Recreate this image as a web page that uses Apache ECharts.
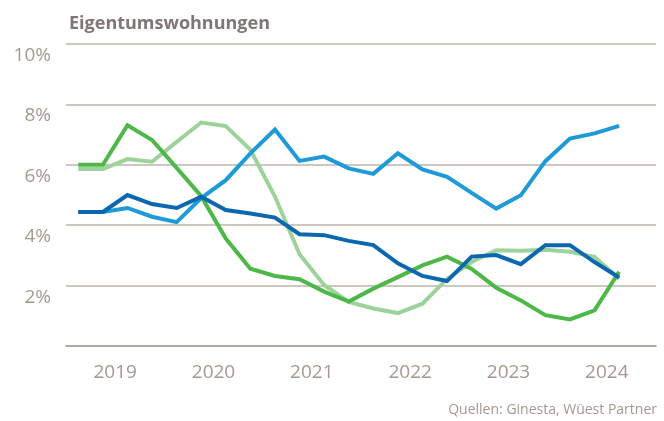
<!DOCTYPE html>
<html>
<head>
<meta charset="utf-8">
<script src="https://cdn.jsdelivr.net/npm/echarts@6/dist/echarts.min.js"></script>
<style>
  html, body { margin: 0; padding: 0; background: #fff; }
  #chart { width: 664px; height: 421px; }
</style>
</head>
<body>
<div id="chart"></div>
<script>
// years shown on the x axis, one point per quarter
const years = ['2019', '2020', '2021', '2022', '2023', '2024'];
const yTicks = [0, 2, 4, 6, 8, 10];

// values in %, 2019 Q1 .. 2024 Q3
const darkGreen = [6.0, 6.0, 7.31, 6.82, 5.9, 4.96, 3.56, 2.56, 2.32, 2.21, 1.8, 1.47, 1.9, 2.28, 2.67, 2.96, 2.55, 1.93, 1.51, 1.02, 0.88, 1.18, 2.46];
const lightGreen = [5.86, 5.86, 6.19, 6.1, 6.76, 7.4, 7.28, 6.5, 4.95, 3.04, 2.02, 1.46, 1.24, 1.09, 1.4, 2.22, 2.78, 3.17, 3.15, 3.19, 3.12, 2.95, 2.23];
const lightBlue = [4.44, 4.44, 4.57, 4.28, 4.1, 4.9, 5.49, 6.38, 7.17, 6.13, 6.27, 5.88, 5.7, 6.38, 5.85, 5.6, 5.07, 4.55, 4.99, 6.12, 6.87, 7.04, 7.29];
const darkBlue = [4.44, 4.44, 5.0, 4.7, 4.57, 4.94, 4.5, 4.39, 4.25, 3.7, 3.67, 3.48, 3.34, 2.74, 2.32, 2.15, 2.96, 3.01, 2.71, 3.34, 3.34, 2.78, 2.27];

const quarters = [];
years.forEach(y => {
  for (let q = 1; q <= 4; q++) quarters.push(y + ' Q' + q);
});

const axisGrey = '#a89e96';
const labelGrey = '#a39990';
const font = 'Open Sans';

const chart = echarts.init(document.getElementById('chart'));

const line = (data, color) => ({
  type: 'line',
  xAxisIndex: 1,
  data,
  symbol: 'none',
  lineStyle: { color, width: 4, join: 'miter' },
  itemStyle: { color }
});

chart.setOption({
  animation: false,
  title: {
    text: 'Eigentumswohnungen',
    left: 64,
    top: 10,
    textStyle: { fontFamily: font, fontSize: 18, fontWeight: 'bold', color: '#7d7775' }
  },
  graphic: [{
    type: 'text',
    right: 7,
    top: 403,
    style: {
      text: 'Quellen: Ginesta, Wüest Partner',
      fontFamily: font,
      fontSize: 14,
      fill: labelGrey
    }
  }],
  grid: { left: 66, right: 8, top: 44, bottom: 75 },
  xAxis: [{
    type: 'category',
    data: years,
    boundaryGap: true,
    axisLine: { lineStyle: { color: axisGrey, width: 1.5 } },
    axisTick: { length: 8, lineStyle: { color: axisGrey, width: 1.5 } },
    axisLabel: { fontFamily: font, fontSize: 19, color: labelGrey, margin: 17 },
    splitLine: { show: false }
  }, {
    type: 'category',
    data: quarters,
    boundaryGap: true,
    show: false
  }],
  yAxis: {
    type: 'value',
    min: yTicks[0],
    max: yTicks[yTicks.length - 1],
    interval: 2,
    axisLine: { show: false },
    axisTick: { show: false },
    axisLabel: {
      fontFamily: font,
      fontSize: 19,
      color: labelGrey,
      margin: 15,
      verticalAlign: 'top',
      padding: [2, 0, 0, 0],
      formatter: v => (v === 0 ? '' : v + '%')
    },
    splitLine: { lineStyle: { color: '#bdb4ad', width: 1.5 } }
  },
  series: [
    line(lightGreen, '#9dd39a'),
    line(darkGreen, '#4db848'),
    line(lightBlue, '#1d9ad7'),
    line(darkBlue, '#0b67b0')
  ]
});
</script>
</body>
</html>
